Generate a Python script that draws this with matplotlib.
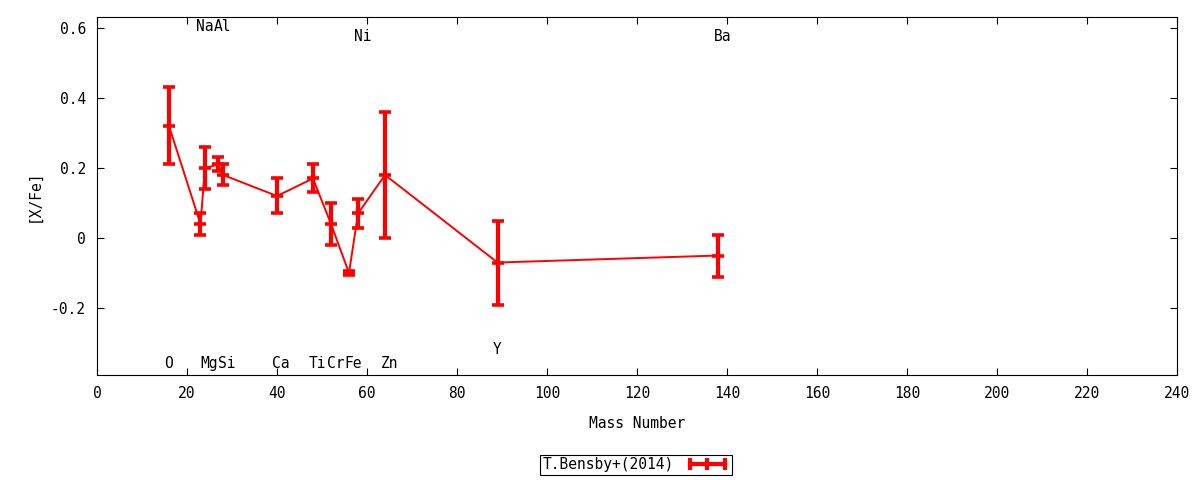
import matplotlib.pyplot as plt
from matplotlib.lines import Line2D
from matplotlib.ticker import FuncFormatter

plt.rcParams['font.family'] = ['DejaVu Sans Mono']
plt.rcParams['font.size'] = 10

# element data, T.Bensby+(2014)
elements = ['O', 'Na', 'Mg', 'Al', 'Si', 'Ca', 'Ti', 'Cr', 'Fe', 'Ni', 'Zn', 'Y', 'Ba']
mass = [16, 23, 24, 27, 28, 40, 48, 52, 56, 58, 64, 89, 138]
xfe = [0.32, 0.04, 0.20, 0.21, 0.18, 0.12, 0.17, 0.04, -0.10, 0.07, 0.18, -0.07, -0.05]
err = [0.11, 0.03, 0.06, 0.02, 0.03, 0.05, 0.04, 0.06, 0.005, 0.04, 0.18, 0.12, 0.06]
label_y = [-0.357, 0.603, -0.357, 0.603, -0.357, -0.357, -0.357, -0.357, -0.357,
           0.574, -0.357, -0.317, 0.574]

fig = plt.figure(figsize=(12, 4.8), dpi=100)
ax = fig.add_axes([0.0808, 0.2188, 0.9002, 0.7458])

ax.plot(mass, xfe, color='red', lw=1.4, zorder=2)
ax.errorbar(mass, xfe, yerr=err, fmt='_', color='red', ms=8, mew=2.6,
            elinewidth=3, capsize=4.2, capthick=2.6, zorder=3)

for name, m, ly in zip(elements, mass, label_y):
    ax.text(m - 1.0, ly, name, ha='left', va='center', fontsize=10.5)

ax.set_xlim(0, 240)
ax.set_ylim(-0.391, 0.631)
ax.set_xticks(range(0, 241, 20))
ax.set_yticks([-0.2, 0, 0.2, 0.4, 0.6])
ax.yaxis.set_major_formatter(FuncFormatter(lambda v, p: '0' if abs(v) < 1e-9 else f'{v:g}'))
ax.tick_params(direction='in', top=True, right=True, length=5, labelsize=10.5, pad=8)
ax.set_xlabel('Mass Number', fontsize=10.5, labelpad=11)
ax.set_ylabel('[X/Fe]', fontsize=10.5, labelpad=7)

handle = Line2D([], [], color='red', lw=3, marker='|', ms=8, mew=3)
leg = fig.legend([handle], ['T.Bensby+(2014)'], loc='center',
                 bbox_to_anchor=(636 / 1200, 1 - 465 / 480), markerfirst=False,
                 numpoints=3, fancybox=False, edgecolor='black', framealpha=1,
                 fontsize=10.5, borderpad=0.15, handlelength=3, handletextpad=0.8)
leg.get_frame().set_linewidth(0.8)

fig.savefig('out.png')
